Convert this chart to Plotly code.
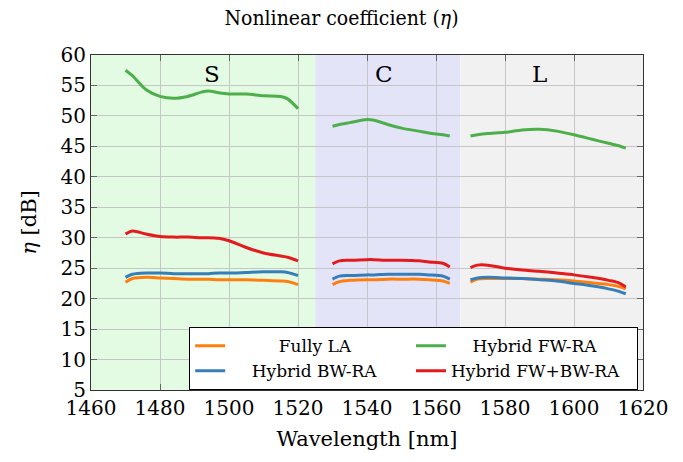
import plotly.graph_objects as go

# Wavelength samples (nm) and nonlinear coefficient (dB) per amplifier scheme, split by band
wl_s = [1470, 1472, 1476, 1480, 1484, 1488, 1492, 1494, 1497, 1500, 1505, 1510, 1515, 1517, 1520]
wl_c = [1530, 1532, 1535, 1540, 1542, 1546, 1550, 1555, 1558, 1562, 1564]
wl_l = [1570, 1572, 1575, 1580, 1585, 1590, 1595, 1600, 1605, 1610, 1613, 1615]

fully_la_s = [22.7, 23.3, 23.5, 23.4, 23.3, 23.2, 23.2, 23.2, 23.1, 23.1, 23.1, 23.0, 22.9, 22.8, 22.3]
fully_la_c = [22.3, 22.8, 23.0, 23.1, 23.1, 23.2, 23.2, 23.2, 23.1, 22.9, 22.5]
fully_la_l = [22.7, 23.2, 23.3, 23.3, 23.3, 23.2, 23.1, 22.9, 22.6, 22.3, 22.0, 21.6]

fw_ra_s = [57.5, 56.6, 54.3, 53.2, 52.9, 53.2, 53.9, 54.1, 53.8, 53.6, 53.6, 53.3, 53.2, 52.8, 51.2]
fw_ra_c = [48.3, 48.6, 48.9, 49.4, 49.3, 48.6, 48.0, 47.5, 47.2, 46.9, 46.7]
fw_ra_l = [46.7, 46.9, 47.1, 47.3, 47.7, 47.8, 47.5, 46.9, 46.2, 45.5, 45.1, 44.7]

bw_ra_s = [23.5, 24.0, 24.2, 24.2, 24.1, 24.1, 24.1, 24.1, 24.2, 24.2, 24.3, 24.4, 24.4, 24.3, 23.8]
bw_ra_c = [23.2, 23.7, 23.8, 23.9, 23.9, 24.0, 24.0, 24.0, 23.9, 23.7, 23.2]
bw_ra_l = [23.1, 23.4, 23.5, 23.4, 23.3, 23.1, 22.9, 22.5, 22.1, 21.6, 21.2, 20.8]

fwbw_ra_s = [30.6, 31.1, 30.6, 30.2, 30.1, 30.1, 30.0, 30.0, 29.9, 29.5, 28.4, 27.5, 27.0, 26.8, 26.2]
fwbw_ra_c = [25.7, 26.2, 26.3, 26.4, 26.4, 26.3, 26.3, 26.2, 26.0, 25.8, 25.2]
fwbw_ra_l = [25.1, 25.5, 25.5, 25.0, 24.7, 24.5, 24.2, 23.9, 23.5, 23.0, 22.6, 21.9]

# Amplification bands: edges (nm), label positions (nm) and labels
band_names = ["S", "C", "L"]
band_edges = [1460, 1525, 1567, 1620]
band_label_x = [1495, 1545, 1590]
band_colors = ["#e4fbe3", "#e4e4f9", "#f1f1f1"]

series = [
    ("Fully LA", "#ff7f0e", fully_la_s, fully_la_c, fully_la_l),
    ("Hybrid FW-RA", "#4daf4a", fw_ra_s, fw_ra_c, fw_ra_l),
    ("Hybrid BW-RA", "#377eb8", bw_ra_s, bw_ra_c, bw_ra_l),
    ("Hybrid FW+BW-RA", "#e41a1c", fwbw_ra_s, fwbw_ra_c, fwbw_ra_l),
]
# leading no-break spaces centre the names inside their legend columns
legend_pad = [9, 4, 4, 0]

FONT = "DejaVu Serif"
FONT_NARROW = "DejaVu Serif Condensed, DejaVu Serif"

fig = go.Figure()
for (name, color, ys, yc, yl), pad in zip(series, legend_pad):
    # one trace per scheme; None separates the three bands
    x_all = wl_s + [None] + wl_c + [None] + wl_l
    y_all = ys + [None] + yc + [None] + yl
    fig.add_trace(go.Scatter(
        x=x_all, y=y_all, mode="lines", name="\u00a0" * pad + name, connectgaps=False,
        line=dict(color=color, width=3, shape="spline", smoothing=0.8),
    ))

shapes = []
annotations = []
for k, label in enumerate(band_names):
    shapes.append(dict(type="rect", xref="x", yref="paper",
                       x0=band_edges[k], x1=band_edges[k + 1], y0=0, y1=1,
                       fillcolor=band_colors[k], line=dict(width=0), layer="below"))
    annotations.append(dict(x=band_label_x[k], y=56.8,
                            xref="x", yref="y", text=label, showarrow=False,
                            font=dict(family=FONT, size=23, color="black")))

fig.update_layout(
    width=683, height=462,
    margin=dict(l=91, r=40, t=55, b=72),
    paper_bgcolor="white", plot_bgcolor="white",
    font=dict(family=FONT, size=18, color="black"),
    title=dict(text="Nonlinear coefficient (<i>η</i>)", x=0.5, xanchor="center",
               y=0.962, yanchor="middle", font=dict(family=FONT_NARROW, size=21)),
    shapes=shapes, annotations=annotations,
    legend=dict(orientation="h", x=0.1775, xanchor="left", y=0, yanchor="bottom",
                bgcolor="white", bordercolor="black", borderwidth=1.2,
                entrywidthmode="fraction", entrywidth=0.4,
                font=dict(family=FONT, size=17),
                itemwidth=30, tracegroupgap=0),
)
fig.update_xaxes(
    range=[1460, 1620], dtick=20, tick0=1460,
    showgrid=True, gridcolor="#c6c6c6", gridwidth=1,
    showline=True, linecolor="#333333", linewidth=1.2, mirror="ticks",
    ticks="inside", ticklen=6, tickcolor="#666666",
    tickfont=dict(family=FONT, size=20),
    title=dict(text="Wavelength [nm]", font=dict(family=FONT, size=21), standoff=12),
    zeroline=False,
)
fig.update_yaxes(
    range=[5, 60], dtick=5, tick0=5,
    showgrid=True, gridcolor="#c6c6c6", gridwidth=1,
    showline=True, linecolor="#333333", linewidth=1.2, mirror="ticks",
    ticks="inside", ticklen=6, tickcolor="#666666",
    tickfont=dict(family=FONT, size=20),
    title=dict(text="<i>η</i> [dB]", font=dict(family=FONT, size=21), standoff=18),
    zeroline=False,
)

fig.write_html("out.html")
